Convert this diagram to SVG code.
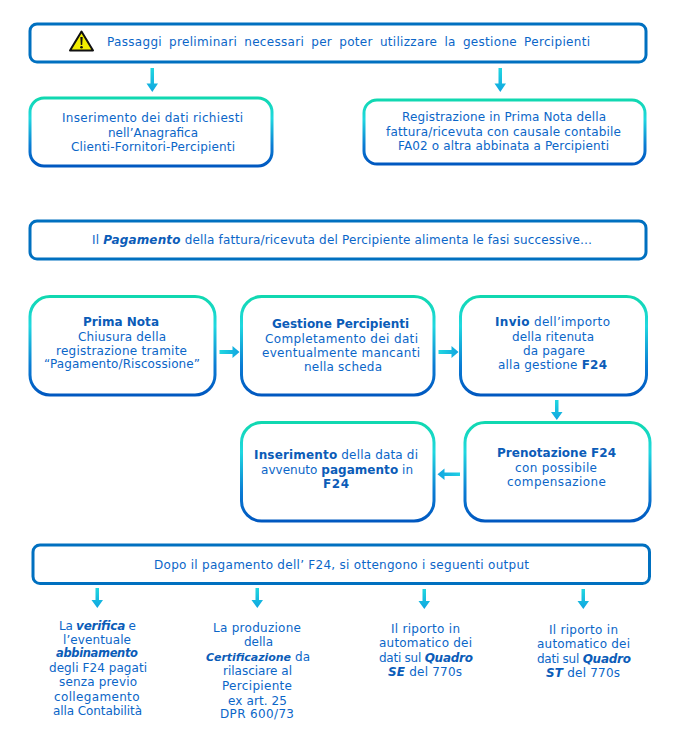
<svg xmlns="http://www.w3.org/2000/svg" width="683" height="733" viewBox="0 0 683 733">
<style>
text{font-family:"DejaVu Sans","Liberation Sans",sans-serif;font-size:12px;fill:#0b66c8}
.b{font-weight:700;fill:#0b5cb8}
.bi{font-weight:700;font-style:italic;fill:#0b5cb8}
.p{fill:#fff;stroke:#0070c0;stroke-width:3}
.g{fill:#fff;stroke:url(#bx);stroke-width:3}
.a{fill:url(#ar)}
.h{fill:url(#arh)}
</style>
<defs>
<linearGradient id="bx" x1="0" y1="0" x2="0" y2="1"><stop offset="0" stop-color="#10d8b0"/><stop offset=".3" stop-color="#20d8e0"/><stop offset=".7" stop-color="#0a7cd4"/><stop offset="1" stop-color="#0058c0"/></linearGradient>
<linearGradient id="ar" x1="0" y1="0" x2="0" y2="1"><stop offset="0" stop-color="#20d8e0"/><stop offset="1" stop-color="#10a4e0"/></linearGradient>
<linearGradient id="arh" x1="0" y1="0" x2="1" y2="0"><stop offset="0" stop-color="#20d8e0"/><stop offset="1" stop-color="#10a4e0"/></linearGradient>
<linearGradient id="arl" x1="1" y1="0" x2="0" y2="0"><stop offset="0" stop-color="#20d0e4"/><stop offset="1" stop-color="#10a4e0"/></linearGradient>
</defs>
<g id="connectors">
<path class="a" d="M150.500 68h3.500v15.500h4l-5.700 8.500l-5.800-8.500h4z"/>
<path class="a" d="M498.500 68h3.500v15.500h4l-5.700 8.500l-5.800-8.500h4z"/>
<path class="h" d="M219.500 350h13v-4l7 6l-7 6v-4h-13z"/>
<path class="h" d="M438.500 350h13v-4l7 6l-7 6v-4h-13z"/>
<path class="a" d="M555 400h3.500v12h4l-5.700 8l-5.800-8h4z"/>
<path d="M460 472.500v3.500h-15.500v4l-7-5.700l7-5.800v4z" fill="url(#arl)"/>
<path class="a" d="M95.500 588h3.500v12h4l-5.700 8l-5.800-8h4z"/>
<path class="a" d="M255.500 588h3.500v12h4l-5.700 8l-5.800-8h4z"/>
<path class="a" d="M422.500 589h3.500v12h4l-5.700 8l-5.800-8h4z"/>
<path class="a" d="M581.500 589h3.500v12h4l-5.700 8l-5.800-8h4z"/>
</g>
<g id="n-preliminari">
<rect class="p" x="30" y="24" width="616" height="38" rx="7"/>
<path d="M81.500 31.500L93 50.500H70z" fill="#f2ee00" stroke="#111" stroke-width="2" stroke-linejoin="round"/>
<path d="M80.300 37h2.400l-.5 8h-1.400z" fill="#111"/><circle cx="81.500" cy="47.300" r="1.300" fill="#111"/>
<text x="107" y="46" textLength="483" style="word-spacing:3px">Passaggi preliminari necessari per poter utilizzare la gestione Percipienti</text>
</g>
<g id="n-anagrafica">
<rect class="g" x="30" y="98" width="242" height="68" rx="14"/>
<text x="62" y="122" textLength="181">Inserimento dei dati richiesti</text>
<text x="108" y="137" textLength="90">nell’Anagrafica</text>
<text x="71" y="151" textLength="164">Clienti-Fornitori-Percipienti</text>
</g>
<g id="n-registrazione">
<rect class="g" x="364" y="100" width="281" height="64" rx="13"/>
<text x="402" y="121" textLength="204">Registrazione in Prima Nota della</text>
<text x="386" y="136" textLength="235">fattura/ricevuta con causale contabile</text>
<text x="398" y="150" textLength="211">FA02 o altra abbinata a Percipienti</text>
</g>
<g id="n-pagamento">
<rect class="p" x="30" y="221" width="616" height="38" rx="7"/>
<text x="92" y="244" textLength="500">Il <tspan class="bi">Pagamento</tspan> della fattura/ricevuta del Percipiente alimenta le fasi successive…</text>
</g>
<g id="n-primanota">
<rect class="g" x="30" y="296.500" width="185" height="98.500" rx="20"/>
<text class="b" x="83" y="326" textLength="76">Prima Nota</text>
<text x="78" y="341" textLength="88">Chiusura della</text>
<text x="56" y="355" textLength="131">registrazione tramite</text>
<text x="44" y="368" textLength="156">“Pagamento/Riscossione”</text>
</g>
<g id="n-gestione">
<rect class="g" x="241.500" y="296.500" width="192.500" height="98.500" rx="20"/>
<text class="b" x="272" y="328" textLength="137">Gestione Percipienti</text>
<text x="265" y="343" textLength="153">Completamento dei dati</text>
<text x="262" y="357" textLength="158">eventualmente mancanti</text>
<text x="304" y="371" textLength="78">nella scheda</text>
</g>
<g id="n-invio">
<rect class="g" x="460.500" y="296.500" width="186" height="98.500" rx="20"/>
<text x="495" y="326" textLength="115"><tspan class="b">Invio</tspan> dell’importo</text>
<text x="512" y="341" textLength="82">della ritenuta</text>
<text x="523" y="355" textLength="62">da pagare</text>
<text x="498" y="369" textLength="109">alla gestione <tspan class="b">F24</tspan></text>
</g>
<g id="n-prenotazione">
<rect class="g" x="465" y="422.500" width="185" height="98.500" rx="20"/>
<text class="b" x="497" y="457" textLength="119">Prenotazione F24</text>
<text x="515" y="472" textLength="82">con possibile</text>
<text x="507" y="486" textLength="99">compensazione</text>
</g>
<g id="n-inserimento">
<rect class="g" x="241.500" y="422.500" width="192.500" height="98.500" rx="20"/>
<text x="254" y="459" textLength="164"><tspan class="b">Inserimento</tspan> della data di</text>
<text x="261" y="474" textLength="152">avvenuto <tspan class="b">pagamento</tspan> in</text>
<text class="b" x="323" y="488" textLength="26">F24</text>
</g>
<g id="n-dopo">
<rect class="p" x="33" y="545" width="616.500" height="38.500" rx="7"/>
<text x="154" y="569" textLength="375">Dopo il pagamento dell’ F24, si ottengono i seguenti output</text>
</g>
<g id="n-verifica">
<text x="59" y="630" textLength="77">La <tspan class="bi">verifica</tspan> e</text>
<text x="63" y="644" textLength="68">l’eventuale</text>
<text class="bi" x="56" y="657" textLength="82" style="font-size:11.500px">abbinamento</text>
<text x="49" y="672" textLength="98">degli F24 pagati</text>
<text x="59" y="686" textLength="78">senza previo</text>
<text x="54" y="701" textLength="85.500">collegamento</text>
<text x="53" y="715" textLength="89">alla Contabilità</text>
</g>
<g id="n-certificazione">
<text x="213" y="632" textLength="88">La produzione</text>
<text x="244" y="646" textLength="29">della</text>
<text class="bi" x="206" y="661" textLength="85" style="font-size:11px">Certificazione</text>
<text x="295" y="661" textLength="15">da</text>
<text x="223" y="675" textLength="69">rilasciare al</text>
<text x="222" y="690" textLength="70">Percipiente</text>
<text x="228" y="705" textLength="59">ex art. 25</text>
<text x="220" y="718" textLength="74">DPR 600/73</text>
</g>
<g id="n-quadro-se">
<text x="391" y="633" textLength="69">Il riporto in</text>
<text x="379" y="647" textLength="93">automatico dei</text>
<text x="379" y="662" textLength="94">dati sul <tspan class="bi">Quadro</tspan></text>
<text x="388" y="676" textLength="74"><tspan class="bi">SE</tspan> del 770s</text>
</g>
<g id="n-quadro-st">
<text x="549" y="634" textLength="69">Il riporto in</text>
<text x="537" y="648" textLength="93">automatico dei</text>
<text x="537" y="663" textLength="94">dati sul <tspan class="bi">Quadro</tspan></text>
<text x="546" y="677" textLength="74"><tspan class="bi">ST</tspan> del 770s</text>
</g>
</svg>
